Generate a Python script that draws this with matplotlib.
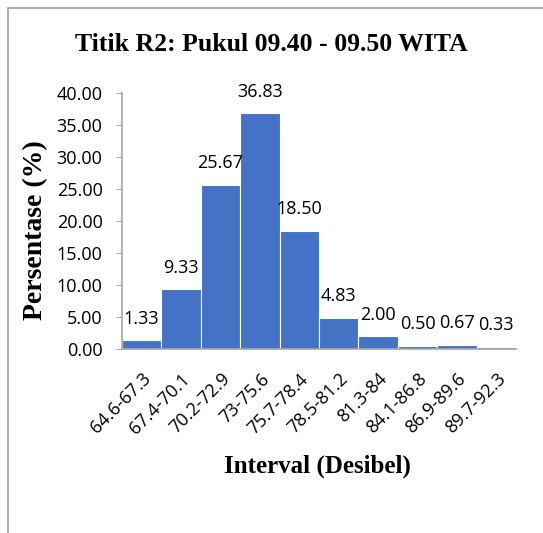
import numpy as np
import matplotlib.pyplot as plt
from matplotlib.patches import Rectangle

intervals = ['64.6-67.3', '67.4-70.1', '70.2-72.9', '73-75.6', '75.7-78.4',
             '78.5-81.2', '81.3-84', '84.1-86.8', '86.9-89.6', '89.7-92.3']
persen = [1.33, 9.33, 25.67, 36.83, 18.50, 4.83, 2.00, 0.50, 0.67, 0.33]
yticks = [0, 5, 10, 15, 20, 25, 30, 35, 40]

fig = plt.figure(figsize=(5.43, 5.33), dpi=100)
# outer grey frame (clipped right and bottom)
fig.patches.append(Rectangle((8/543, -0.1), 1.2, 1 - 8/533 + 0.1, transform=fig.transFigure,
                             fill=False, edgecolor='#a0a0a0', linewidth=1.2))

ax = fig.add_axes([122/543, 1 - 349/533, (516 - 122)/543, (349 - 93)/533])
x = np.arange(len(persen))
ax.bar(x, persen, width=1.0, color='#4472C4', edgecolor='white', linewidth=0.8)
for xi, v in zip(x, persen):
    ax.annotate('%.2f' % v, (xi, v), xytext=(0, 12), textcoords='offset points',
                ha='center', va='baseline', fontsize=13, family='Open Sans')

ax.set_xlim(-0.5, len(persen) - 0.5)
ax.set_ylim(0, 40)
ax.set_yticks(yticks)
ax.set_yticklabels(['%.2f' % t for t in yticks], fontsize=13, family='Open Sans')
ax.set_xticks(x)
ax.set_xticklabels(intervals, rotation=45, ha='right', va='top', rotation_mode='anchor',
                   fontsize=13, family='Open Sans')
ax.tick_params(axis='x', length=0, pad=15)
ax.tick_params(axis='y', length=4, color='#a6a6a6', pad=10)
for s in ['top', 'right']:
    ax.spines[s].set_visible(False)
ax.spines['left'].set_color('#a6a6a6')
ax.spines['bottom'].set_color('#a6a6a6')
ax.spines['left'].set_linewidth(1.2)
ax.spines['bottom'].set_linewidth(1.2)

fig.text(0.5, 1 - 45/533, 'Titik R2: Pukul 09.40 - 09.50 WITA', ha='center', va='center',
         fontsize=18.5, fontweight='bold', family='Liberation Serif')
fig.text(36/543, 1 - 230/533, 'Persentase (%)', rotation=90, ha='center', va='center',
         fontsize=20, fontweight='bold', family='Liberation Serif')
fig.text(317/543, 1 - 466/533, 'Interval (Desibel)', ha='center', va='center',
         fontsize=18, fontweight='bold', family='Liberation Serif')

plt.savefig('out.png', dpi=100)
